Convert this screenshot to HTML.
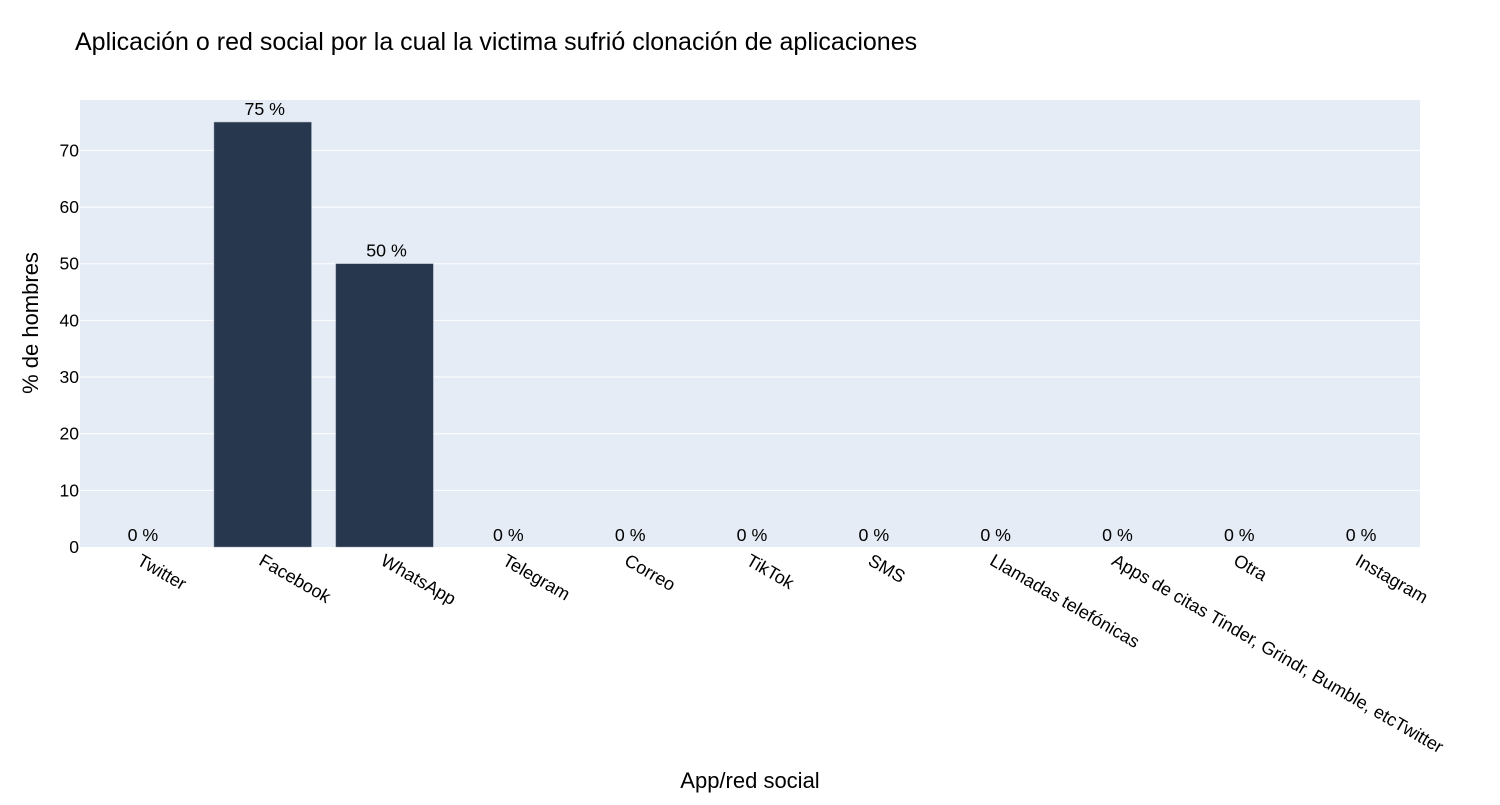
<!DOCTYPE html>
<html><head><meta charset="utf-8"><style>
body{margin:0;background:#fff;font-family:"Liberation Sans",sans-serif;}
svg text{font-family:"Liberation Sans",sans-serif;}
</style></head><body>
<svg id="chart" width="1500" height="800">
<text x="75" y="50" font-size="25" fill="#000">Aplicación o red social por la cual la victima sufrió clonación de aplicaciones</text>
<rect x="80" y="100" width="1340" height="447" fill="#e5ecf6"/>
<g id="grid"></g><g id="bars"></g><g id="labels"></g>
<text transform="translate(38,323) rotate(-90)" text-anchor="middle" font-size="22" fill="#000">% de hombres</text>
<text x="750" y="788" text-anchor="middle" font-size="22" fill="#000">App/red social</text>
</svg>
<script>
const categories=["Twitter","Facebook","WhatsApp","Telegram","Correo","TikTok","SMS","Llamadas telefónicas","Apps de citas Tinder, Grindr, Bumble, etcTwitter","Otra","Instagram"];
const values=[0,75,50,0,0,0,0,0,0,0,0];
const yTicks=[0,10,20,30,40,50,60,70];
const NS="http://www.w3.org/2000/svg";
const x0=80,x1=1420,y0=547,yTop=100,yMax=78.9;
const band=(x1-x0)/categories.length;
const xs=i=>x0+band*(i+0.5);
const ys=v=>y0-(y0-yTop)*v/yMax;
function mk(t,a,p){const e=document.createElementNS(NS,t);for(const k in a)e.setAttribute(k,a[k]);p.appendChild(e);return e;}
const grid=document.getElementById('grid'),bars=document.getElementById('bars'),labels=document.getElementById('labels');
yTicks.forEach(t=>{
 if(t>0){const l=mk('line',{x1:x0,x2:x1,y1:ys(t),y2:ys(t),stroke:'#fff','stroke-width':1},grid);
 
 }
 const tx=mk('text',{x:x0-1,y:ys(t)+6,'text-anchor':'end','font-size':17.5,fill:'#000'},grid);tx.textContent=t;
 
 
});
categories.forEach((c,i)=>{
 const v=values[i],w=band*0.8;
 if(v>0){const r=mk('rect',{x:xs(i)-w/2,y:ys(v),width:w,height:y0-ys(v),fill:'#27374d',stroke:'#8a97a8','stroke-width':0.5},bars);
 
 }
 const vy=v>0?ys(v)-7:y0-6;
 const vt=mk('text',{x:xs(i)+2,y:vy,'text-anchor':'middle','font-size':17.8,fill:'#000'},labels);vt.textContent=v+' %';
 
 
 const ct=mk('text',{transform:`translate(${xs(i)-5},${y0+17}) rotate(30)`,'font-size':18,fill:'#000'},labels);ct.textContent=c;
 
 
});
</script>
</body></html>
